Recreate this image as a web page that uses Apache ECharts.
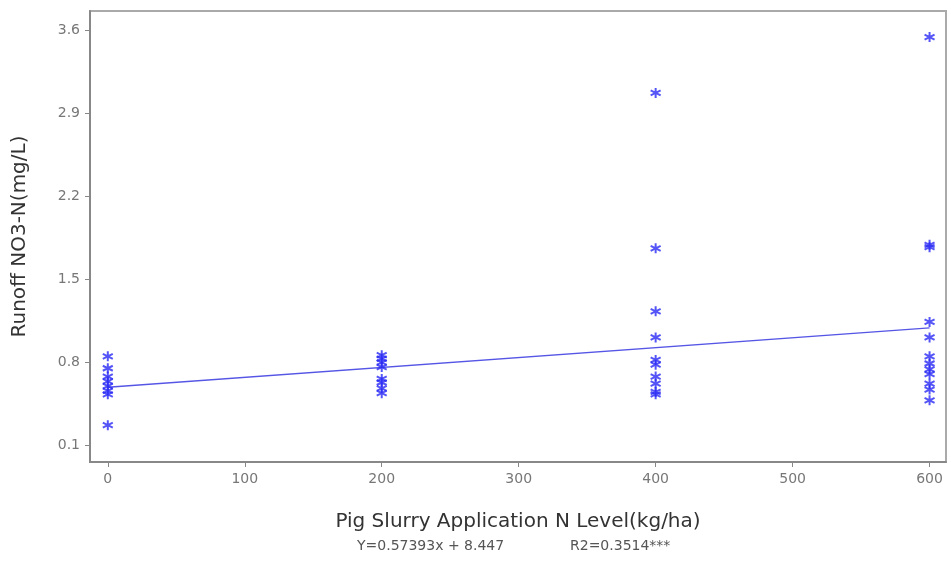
<!DOCTYPE html>
<html lang="en">
<head>
    <meta charset="utf-8">
    <title>Runoff NO3-N vs Pig Slurry N Level</title>
    <script src="https://cdn.jsdelivr.net/npm/echarts@6/dist/echarts.min.js"></script>
    <style>
        html, body { margin: 0; padding: 0; background: #fff; }
        #main { width: 951px; height: 567px; }
    </style>
</head>
<body>
<div id="main"></div>
<script>
    // N level groups and the runoff NO3-N readings at each level
    var level0 = [0.85, 0.75, 0.68, 0.64, 0.60, 0.56, 0.53, 0.27];
    var level200 = [0.86, 0.83, 0.80, 0.76, 0.66, 0.63, 0.58, 0.54];
    var level400 = [3.07, 1.76, 1.23, 1.01, 0.82, 0.78, 0.68, 0.62, 0.55, 0.53];
    var level600 = [3.54, 1.79, 1.77, 1.14, 1.01, 0.85, 0.79, 0.74, 0.70, 0.62, 0.57, 0.48];
    var levels = [0, 200, 400, 600];
    // fitted line, read at both ends
    var fitX = [0, 600];
    var fitY = [0.59, 1.09];
    var xTicks = [0, 100, 200, 300, 400, 500, 600];
    var yTicks = [0.1, 0.8, 1.5, 2.2, 2.9, 3.6];

    var groups = [level0, level200, level400, level600];
    var points = [];
    for (var i = 0; i < groups.length; i++) {
        for (var j = 0; j < groups[i].length; j++) {
            points.push([levels[i], groups[i][j]]);
        }
    }
    var line = [];
    for (var k = 0; k < fitX.length; k++) {
        line.push([fitX[k], fitY[k]]);
    }

    var star = 'path://M0,-5L0,5M-4.33,-2.5L4.33,2.5M-4.33,2.5L4.33,-2.5';
    var labelFont = '"DejaVu Sans", sans-serif';

    var myChart = echarts.init(document.getElementById('main'));
    var option = {
        animation: false,
        grid: {
            left: 90, top: 11, right: 5, bottom: 105,
            show: true, borderColor: '#aaa', borderWidth: 2
        },
        xAxis: {
            type: 'value', min: -13, max: 612,
            splitLine: { show: false },
            axisLine: { show: true, onZero: false, lineStyle: { color: '#888', width: 2 } },
            axisTick: { show: true, customValues: xTicks, length: 5, lineStyle: { color: '#888' } },
            axisLabel: { customValues: xTicks, color: '#777', fontSize: 14, margin: 10, fontFamily: labelFont },
            name: 'Pig Slurry Application N Level(kg/ha)',
            nameLocation: 'middle', nameGap: 50,
            nameTextStyle: { color: '#333', fontSize: 20, fontFamily: labelFont }
        },
        yAxis: {
            type: 'value', min: -0.04, max: 3.76,
            splitLine: { show: false },
            axisLine: { show: true, onZero: false, lineStyle: { color: '#888', width: 2 } },
            axisTick: { show: true, customValues: yTicks, length: 5, lineStyle: { color: '#888' } },
            axisLabel: {
                customValues: yTicks, color: '#777', fontSize: 14, margin: 10, fontFamily: labelFont,
                formatter: function (v) { return v.toFixed(1); }
            },
            name: 'Runoff NO3-N(mg/L)',
            nameLocation: 'middle', nameGap: 60,
            nameTextStyle: { color: '#333', fontSize: 20, fontFamily: labelFont }
        },
        graphic: [
            { type: 'text', left: 357, top: 539,
              style: { text: 'Y=0.57393x + 8.447', fill: '#555', fontSize: 14, fontFamily: labelFont } },
            { type: 'text', left: 570, top: 539,
              style: { text: 'R2=0.3514***', fill: '#555', fontSize: 14, fontFamily: labelFont } }
        ],
        series: [
            {
                type: 'line',
                data: line,
                symbol: 'none',
                lineStyle: { color: '#5555e6', width: 1.3 },
                z: 2
            },
            {
                type: 'scatter',
                data: points,
                symbol: star,
                symbolSize: 10,
                itemStyle: { color: 'rgba(0,0,0,0)', borderColor: '#2a2af5', borderWidth: 2 },
                z: 3
            }
        ]
    };
    myChart.setOption(option);
</script>
</body>
</html>
